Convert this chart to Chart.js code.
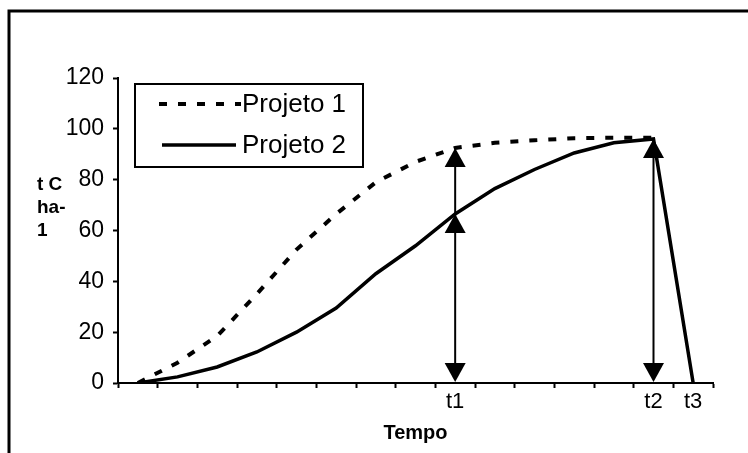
<!DOCTYPE html>
<html>
<head>
<meta charset="utf-8">
<title>Projeto 1 x Projeto 2</title>
<script src="https://cdn.jsdelivr.net/npm/chart.js@4.4.1/dist/chart.umd.min.js"></script>
<style>
  html, body { margin: 0; padding: 0; background: #fff; }
  #wrap { width: 748px; height: 453px; }
</style>
</head>
<body>
<div id="wrap"><canvas id="carbonChart" width="748" height="453"></canvas></div>
<script>
// Data
const categories = ["", "", "", "", "", "", "", "", "t1", "", "", "", "", "t2", "t3"];
const projeto1 = [0, 8, 18.5, 35, 52.5, 66.5, 79, 87, 92.5, 94.5, 95.5, 96.3, 96.5, 96.5, null];
const projeto2 = [0, 2.4, 6.3, 12.2, 20, 29.5, 43, 54, 66.5, 76.5, 84, 90.5, 94.5, 96, 0];
const seriesNames = ["Projeto 1", "Projeto 2"];
const yTicks = [0, 20, 40, 60, 80, 100, 120];
const yTitleLines = ["t C", "ha-", "1"];
const xTitle = "Tempo";

// Vertical arrows: at each marked time, arrowheads point up to these series
const arrowMarks = [
  { label: "t1", upTo: [projeto2, projeto1] },
  { label: "t2", upTo: [projeto2] }
];

const family = "'Liberation Sans', Arial, sans-serif";
const ink = "#000";

const drawHead = (ctx, x, tipY, dir) => {
  // dir = 1 points down, dir = -1 points up
  ctx.beginPath();
  ctx.moveTo(x, tipY);
  ctx.lineTo(x - 10.5, tipY - dir * 19);
  ctx.lineTo(x + 10.5, tipY - dir * 19);
  ctx.closePath();
  ctx.fill();
};

const framePlugin = {
  id: "frame",
  beforeDraw(chart) {
    const { ctx, width, height } = chart;
    ctx.save();
    ctx.strokeStyle = ink;
    ctx.lineWidth = 3;
    ctx.beginPath();
    ctx.moveTo(9, height);
    ctx.lineTo(9, 11);
    ctx.lineTo(width, 11);
    ctx.stroke();
    ctx.restore();
  }
};

const arrowPlugin = {
  id: "arrows",
  afterDatasetsDraw(chart) {
    const { ctx } = chart;
    const { x, y } = chart.scales;
    ctx.save();
    ctx.fillStyle = ink;
    ctx.strokeStyle = ink;
    ctx.lineWidth = 2;
    arrowMarks.forEach((m) => {
      const i = categories.indexOf(m.label);
      const px = x.getPixelForValue(i);
      const base = y.getPixelForValue(0) - 1;
      const tips = m.upTo.map((s) => y.getPixelForValue(s[i]));
      const top = Math.min(...tips);
      ctx.beginPath();
      ctx.moveTo(px, base - 10);
      ctx.lineTo(px, top + 10);
      ctx.stroke();
      drawHead(ctx, px, base, 1);
      tips.forEach((t) => drawHead(ctx, px, t, -1));
    });
    ctx.restore();
  }
};

const legendBoxPlugin = {
  id: "legendBox",
  afterDraw(chart) {
    const { ctx } = chart;
    ctx.save();
    ctx.strokeStyle = ink;
    ctx.lineWidth = 2;
    ctx.strokeRect(135, 84, 228, 83);
    ctx.font = `26px ${family}`;
    ctx.fillStyle = ink;
    ctx.textBaseline = "middle";
    chart.data.datasets.forEach((ds, k) => {
      const rowY = 104 + k * 41;
      ctx.lineWidth = ds.borderWidth;
      ctx.setLineDash(ds.borderDash || []);
      ctx.beginPath();
      ctx.moveTo(k === 0 ? 159 : 162, rowY);
      ctx.lineTo(k === 0 ? 241 : 236, rowY);
      ctx.stroke();
      ctx.setLineDash([]);
      ctx.fillText(ds.label, 242, rowY + 1);
    });
    ctx.restore();
  }
};

const yTitlePlugin = {
  id: "yTitle",
  afterDraw(chart) {
    const { ctx } = chart;
    ctx.save();
    ctx.font = `bold 19px ${family}`;
    ctx.fillStyle = ink;
    ctx.textBaseline = "middle";
    ctx.textAlign = "left";
    yTitleLines.forEach((line, k) => {
      ctx.fillText(line, 37, 185 + k * 23);
    });
    ctx.restore();
  }
};

const canvas = document.getElementById("carbonChart");

new Chart(canvas, {
  type: "line",
  data: {
    labels: categories,
    datasets: [
      {
        label: seriesNames[0],
        data: projeto1,
        borderColor: ink,
        borderWidth: 4,
        borderDash: [8, 11],
        pointRadius: 0,
        tension: 0,
        fill: false
      },
      {
        label: seriesNames[1],
        data: projeto2,
        borderColor: ink,
        borderWidth: 3.5,
        pointRadius: 0,
        tension: 0,
        fill: false
      }
    ]
  },
  options: {
    responsive: false,
    animation: false,
    events: [],
    layout: { padding: { left: 0, top: 78, right: 35, bottom: 0 } },
    plugins: {
      legend: { display: false },
      tooltip: { enabled: false }
    },
    scales: {
      x: {
        offset: true,
        grid: { offset: true, drawOnChartArea: false, tickLength: 5, tickColor: ink, tickWidth: 2 },
        border: { color: ink, width: 2 },
        ticks: {
          autoSkip: false,
          maxRotation: 0,
          color: ink,
          padding: 1,
          font: { family, size: 22 }
        },
        title: {
          display: true,
          text: xTitle,
          color: ink,
          font: { family, size: 20, weight: "bold" },
          padding: { top: 0, bottom: 8 }
        },
        afterFit: (s) => { s.height = 70; }
      },
      y: {
        min: 0,
        max: 120,
        afterBuildTicks: (s) => { s.ticks = yTicks.map((v) => ({ value: v })); },
        grid: { drawOnChartArea: false, tickLength: 5, tickColor: ink, tickWidth: 2 },
        border: { color: ink, width: 2 },
        ticks: {
          color: ink,
          padding: 9,
          font: { family, size: 23 }
        },
        afterFit: (s) => { s.width = 118; }
      }
    }
  },
  plugins: [framePlugin, arrowPlugin, legendBoxPlugin, yTitlePlugin]
});
</script>
</body>
</html>
